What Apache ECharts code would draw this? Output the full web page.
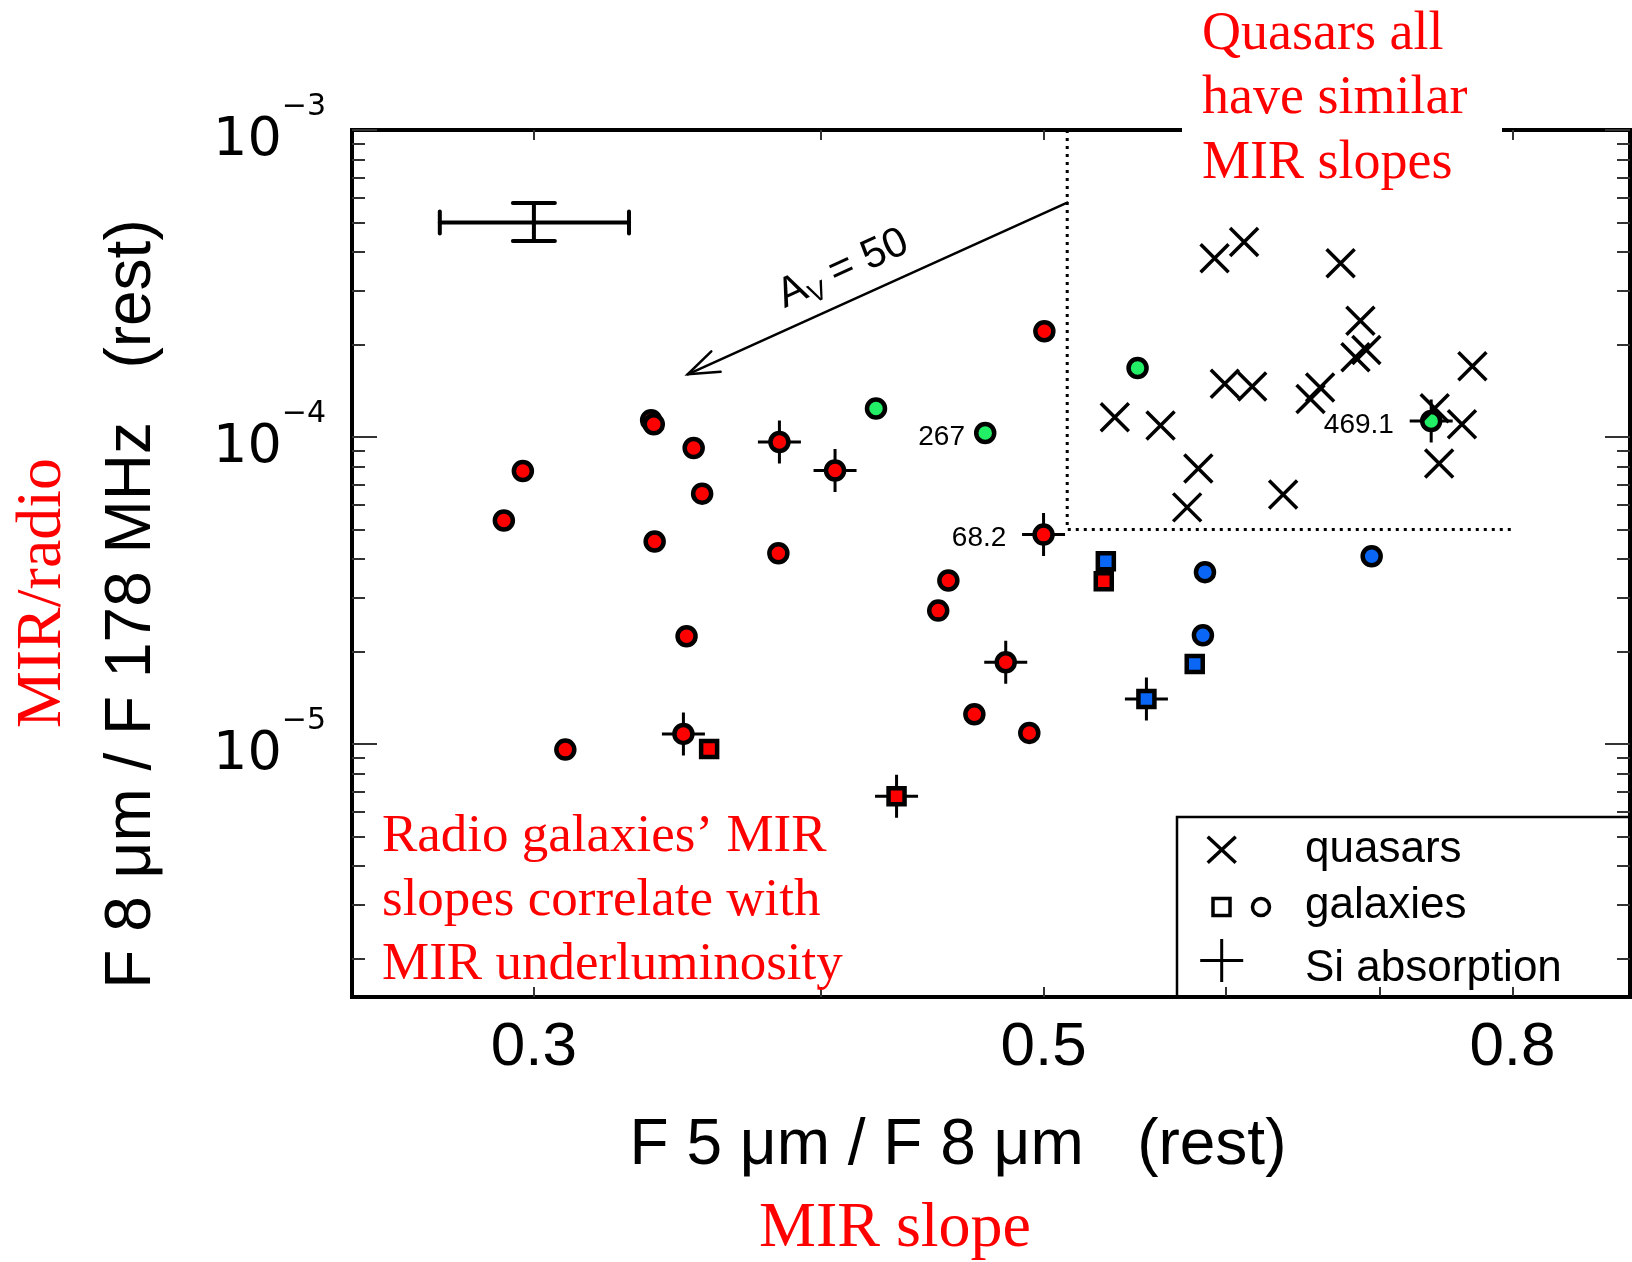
<!DOCTYPE html>
<html><head><meta charset="utf-8">
<script src="https://cdn.jsdelivr.net/npm/echarts@6/dist/echarts.min.js"></script>
<style>html,body{margin:0;padding:0;background:#fff}#c{width:1632px;height:1262px}</style>
</head><body><div id="c"></div>
<script>
// ---------------- data ----------------
const quasarX = [0.5935,0.6113,0.6734,0.6869,0.6910,0.6835,0.7685,0.5996,0.6163,0.6597,0.6534,0.5370,0.5622,0.7400,0.7605,0.7433,0.5839,0.6357,0.5774];
const quasarY = [3.82e-4,4.32e-4,3.68e-4,2.39e-4,1.92e-4,1.82e-4,1.70e-4,1.49e-4,1.46e-4,1.45e-4,1.33e-4,1.16e-4,1.09e-4,1.24e-4,1.10e-4,8.2e-5,7.9e-5,6.5e-5,5.9e-5];

const galaxyX = [0.3374,0.3383,0.2967,0.2911,0.3521,0.3551,0.3837,0.4057,0.4227,0.4716,0.3386,0.3833,0.3496,0.3096,0.3485,0.3576,0.4315,0.4545,0.4499,0.4814,0.4665,0.4929,0.5000,0.5004,0.5494,0.7374,0.5322,0.5311,0.5878,0.6947,0.5866,0.5818,0.5543];
const galaxyY = [1.134e-4,1.100e-4,7.75e-5,5.35e-5,9.21e-5,6.54e-5,9.63e-5,7.78e-5,1.238e-4,1.031e-4,4.57e-5,4.18e-5,2.245e-5,9.59e-6,1.079e-5,9.64e-6,6.76e-6,3.41e-5,2.72e-5,1.846e-5,1.25e-5,1.087e-5,4.81e-5,2.21e-4,1.679e-4,1.128e-4,3.94e-5,3.39e-5,3.63e-5,4.09e-5,2.26e-5,1.824e-5,1.403e-5];
const galaxyShape = ['c','c','c','c','c','c','c','c','c','c','c','c','c','c','c','s','s','c','c','c','c','c','c','c','c','c','s','s','c','c','c','s','s'];
const galaxyClass = ['red','red','red','red','red','red','red','red','green','green','red','red','red','red','red','red','red','red','red','red','red','red','red','red','green','green','blue','red','blue','blue','blue','blue','blue'];
const galaxySi = [0,0,0,0,0,0,1,1,0,0,0,0,0,0,1,0,1,0,0,1,0,0,1,0,0,1,0,0,0,0,0,0,1];
const galaxyLabel = ['','','','','','','','','','267','','','','','','','','','','','','','68.2','','','469.1','','','','','','',''];

const xTickValues = [0.3,0.4,0.5,0.6,0.7,0.8];
const xLabelValues = [0.3,0.5,0.8];
const yMajorValues = [1e-3,1e-4,1e-5];
const yMinorValues = [2e-6,3e-6,4e-6,5e-6,6e-6,7e-6,8e-6,9e-6,2e-5,3e-5,4e-5,5e-5,6e-5,7e-5,8e-5,9e-5,2e-4,3e-4,4e-4,5e-4,6e-4,7e-4,8e-4,9e-4];

const errCenter = [0.3, 5e-4];
const errXRange = [0.273, 0.330];
const errYRange = [4.35e-4, 5.78e-4];

const arrowStart = [0.512, 5.8e-4];
const arrowEnd = [0.35, 1.6e-4];

const boxLine = [[0.512, 1e-3],[0.512, 5e-5],[0.8, 5e-5]];

// ---------------- chart ----------------
const colorMap = {red:'#ff0000', green:'#22ee66', blue:'#0a66f5'};
const chart = echarts.init(document.getElementById('c'), null, {renderer:'canvas'});

const tickStyle = {color:'#333', width:2};
function yAxisDef(pos, vals, len, showLabel){
  return {
    type:'log', logBase:10, min:1.5e-6, max:1e-3, position:pos,
    axisLine:{show:false}, splitLine:{show:false}, minorTick:{show:false},
    axisTick:{show:true, inside:true, length:len, customValues:vals, lineStyle:tickStyle},
    axisLabel: showLabel ? {
      show:true, customValues:vals, margin:26, color:'#000',
      formatter: v => '{b|10}{s|\u2212' + Math.abs(Math.round(Math.log10(v))) + '}',
      rich:{
        b:{fontSize:54, fontFamily:'DejaVu Sans', color:'#000', lineHeight:76, verticalAlign:'bottom'},
        s:{fontSize:30, fontFamily:'DejaVu Sans', color:'#000', lineHeight:34, verticalAlign:'top'}
      }
    } : {show:false}
  };
}
function xAxisDef(pos, showLabel){
  return {
    type:'log', logBase:10, min:0.25, max:0.9, position:pos,
    axisLine:{show:false}, splitLine:{show:false}, minorTick:{show:false},
    axisTick:{show:true, inside:true, length:10, customValues:xTickValues, lineStyle:tickStyle},
    axisLabel: showLabel ? {
      show:true, customValues:xLabelValues, margin:20, color:'#000',
      fontSize:62, fontFamily:'Liberation Sans',
      formatter: v => String(+(+v).toFixed(2))
    } : {show:false}
  };
}

const galaxyData = galaxyX.map((x,i)=>({
  value:[x, galaxyY[i]],
  symbol: galaxyShape[i]==='s' ? 'rect' : 'circle',
  symbolSize: galaxyShape[i]==='s' ? 16 : 18,
  itemStyle:{color: colorMap[galaxyClass[i]]},
  label: galaxyLabel[i] ? {show:true, formatter: galaxyLabel[i], position:'left',
          distance: galaxySi[i] ? 26 : 9, offset:[0,4]} : {show:false}
}));
const siData = galaxyX.map((x,i)=>[x, galaxyY[i]]).filter((p,i)=>galaxySi[i]);
const quasarData = quasarX.map((x,i)=>[x, quasarY[i]]);

const dy = 5; // text vertical nudge
function txt(x, y, text, size, family, fill, extra){
  return Object.assign({type:'text', z:101, x:x, y:y, style:Object.assign({text:text, fontSize:size, fontFamily:family, fill:fill,
    align:'left', textAlign:'left', verticalAlign:'middle', textVerticalAlign:'middle'}, extra||{})});
}

const option = {
  animation:false,
  backgroundColor:'#fff',
  grid:{left:352, top:130, width:1278, height:867, show:true, borderColor:'#000', borderWidth:4,
        backgroundColor:'rgba(0,0,0,0)', containLabel:false, outerBoundsMode:'none'},
  xAxis:[xAxisDef('bottom', true), xAxisDef('top', false)],
  yAxis:[yAxisDef('left', yMajorValues, 25, true), yAxisDef('left', yMinorValues, 13, false),
         yAxisDef('right', yMajorValues, 25, false), yAxisDef('right', yMinorValues, 13, false)],
  series:[
    {type:'line', data:boxLine, symbol:'none', silent:true, z:1,
     lineStyle:{color:'#000', width:3, type:[3,5], opacity:1}},
    {type:'custom', coordinateSystem:'cartesian2d', data:[errCenter], clip:false, z:4, silent:true,
     renderItem:(params, api)=>{
       const l = api.coord([errXRange[0], errCenter[1]]), r = api.coord([errXRange[1], errCenter[1]]);
       const t = api.coord([errCenter[0], errYRange[1]]), b = api.coord([errCenter[0], errYRange[0]]);
       const st = {stroke:'#000', lineWidth:4, lineCap:'round'};
       const ln = (x1,y1,x2,y2)=>({type:'line', shape:{x1,y1,x2,y2}, style:st});
       return {type:'group', children:[
         ln(l[0],l[1],r[0],r[1]), ln(t[0],t[1],b[0],b[1]),
         ln(l[0],l[1]-11,l[0],l[1]+11), ln(r[0],r[1]-11,r[0],r[1]+11),
         ln(t[0]-21,t[1],t[0]+21,t[1]), ln(b[0]-21,b[1],b[0]+21,b[1])
       ]};
     }},
    {type:'custom', coordinateSystem:'cartesian2d', data:[arrowEnd], clip:false, z:4, silent:true,
     renderItem:(params, api)=>{
       const p0 = api.coord(arrowStart), p1 = api.coord(arrowEnd);
       const ang = Math.atan2(p0[1]-p1[1], p0[0]-p1[0]);
       const L = 33, sp = 20*Math.PI/180;
       const st = {stroke:'#000', lineWidth:2.5, lineCap:'round'};
       const b1 = [p1[0]+L*Math.cos(ang+sp), p1[1]+L*Math.sin(ang+sp)];
       const b2 = [p1[0]+L*Math.cos(ang-sp), p1[1]+L*Math.sin(ang-sp)];
       const len = Math.hypot(p0[0]-p1[0], p0[1]-p1[1]);
       const ux = (p0[0]-p1[0])/len, uy = (p0[1]-p1[1])/len;
       const nx = uy, ny = -ux; // normal pointing up-left
       const f = 0.45, off = 32;
       const cx = p1[0] + f*(p0[0]-p1[0]) + off*nx;
       const cy = p1[1] + f*(p0[1]-p1[1]) + off*ny;
       const rot = Math.atan2(-(p0[1]-p1[1]), p0[0]-p1[0]);
       const ts = (text, x, y, size)=>({type:'text', x:x, y:y,
          style:{text:text, fontSize:size, fontFamily:'Liberation Sans', fill:'#000',
                 align:'left', verticalAlign:'middle'}});
       return {type:'group', children:[
         {type:'line', shape:{x1:p0[0],y1:p0[1],x2:p1[0],y2:p1[1]}, style:st},
         {type:'polyline', shape:{points:[b1,p1,b2]}, style:Object.assign({fill:null}, st)},
         {type:'group', x:cx, y:cy, rotation:rot, children:[
           ts('A', -72, 0, 42),
           ts('V', -44, 12, 27),
           ts('= 50', -16, 0, 42)
         ]}
       ]};
     }},
    {type:'scatter', name:'Si absorption', data:siData, z:2, silent:true,
     symbol:'path://M1,0L1,2M0,1L2,1', symbolSize:43,
     itemStyle:{color:'rgba(0,0,0,0)', borderColor:'#000', borderWidth:3, opacity:1}},
    {type:'scatter', name:'galaxies', data:galaxyData, z:3, silent:true,
     itemStyle:{borderColor:'#000', borderWidth:4.5, opacity:1},
     label:{fontSize:28, color:'#000', fontFamily:'Liberation Sans'}},
    {type:'scatter', name:'quasars', data:quasarData, z:5, silent:true,
     symbol:'path://M0,0L2,2M2,0L0,2', symbolSize:28,
     itemStyle:{color:'rgba(0,0,0,0)', borderColor:'#000', borderWidth:3.5, opacity:1}}
  ],
  graphic:[
    {type:'rect', z:100, shape:{x:1182, y:115, width:320, height:32}, style:{fill:'#fff'}},
    txt(1202, 94.3+dy, 'Quasars all\nhave similar\nMIR slopes', 54, 'Liberation Serif', '#ff0000', {lineHeight:64.5}),
    txt(382, 896+dy, 'Radio galaxies\u2019 MIR\nslopes correlate with\nMIR underluminosity', 53, 'Liberation Serif', '#ff0000', {lineHeight:64}),
    Object.assign(txt(127+dy, 604, 'F 8 \u03bcm / F 178 MHz   (rest)', 64, 'Liberation Sans', '#000', {align:'center', textAlign:'center'}), {rotation:Math.PI/2}),
    Object.assign(txt(38+dy, 593, 'MIR/radio', 64, 'Liberation Serif', '#ff0000', {align:'center', textAlign:'center'}), {rotation:Math.PI/2}),
    txt(958, 1139+dy+2, 'F 5 \u03bcm / F 8 \u03bcm   (rest)', 64, 'Liberation Sans', '#000', {align:'center', textAlign:'center'}),
    txt(895, 1224+dy, 'MIR slope', 64, 'Liberation Serif', '#ff0000', {align:'center', textAlign:'center'}),
    // legend
    {type:'rect', z:100, shape:{x:1177, y:817, width:470, height:180}, style:{fill:null, stroke:'#000', lineWidth:2.5}},
    {type:'line', z:101, shape:{x1:1207.7,y1:836.7,x2:1235.7,y2:862.7}, style:{stroke:'#000', lineWidth:3.5}},
    {type:'line', z:101, shape:{x1:1235.7,y1:836.7,x2:1207.7,y2:862.7}, style:{stroke:'#000', lineWidth:3.5}},
    {type:'rect', z:101, shape:{x:1213, y:898.5, width:17, height:17}, style:{fill:'#fff', stroke:'#000', lineWidth:3.5}},
    {type:'circle', z:101, shape:{cx:1261, cy:907, r:8.5}, style:{fill:'#fff', stroke:'#000', lineWidth:3.5}},
    {type:'line', z:101, shape:{x1:1200.2,y1:960.5,x2:1243.2,y2:960.5}, style:{stroke:'#000', lineWidth:3}},
    {type:'line', z:101, shape:{x1:1221.7,y1:939,x2:1221.7,y2:982}, style:{stroke:'#000', lineWidth:3}},
    txt(1305, 844.5+dy, 'quasars', 44, 'Liberation Sans', '#000'),
    txt(1305, 901+dy, 'galaxies', 44, 'Liberation Sans', '#000'),
    txt(1305, 964+dy, 'Si absorption', 44, 'Liberation Sans', '#000')
  ]
};
chart.setOption(option);
</script>
</body></html>
